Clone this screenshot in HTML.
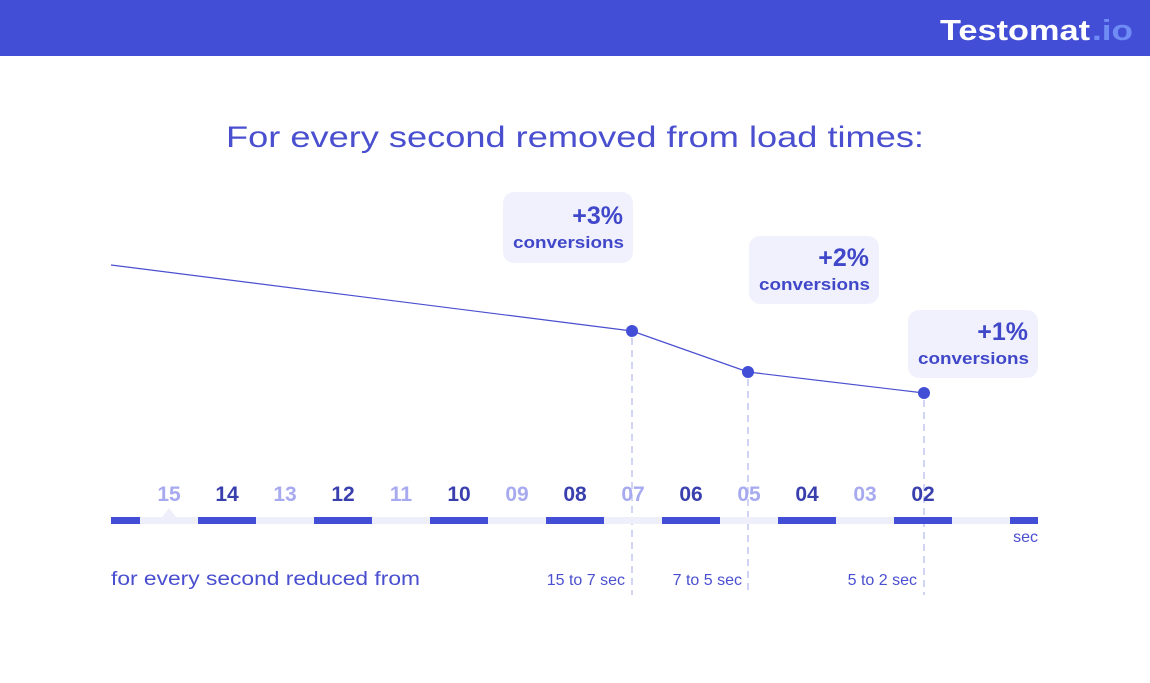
<!DOCTYPE html>
<html><head><meta charset="utf-8"><style>
html,body{margin:0;padding:0;background:#fff;}
svg{display:block;font-family:"Liberation Sans",sans-serif;}
</style></head><body>
<svg width="1150" height="683" viewBox="0 0 1150 683">
<rect x="0" y="0" width="1150" height="56" fill="#434ed6"/>
<text x="940" y="40" font-size="29" font-weight="bold" fill="#fff" textLength="150" lengthAdjust="spacingAndGlyphs">Testomat</text>
<text x="1092" y="40" font-size="29" font-weight="bold" fill="#6f8cf5" textLength="41" lengthAdjust="spacingAndGlyphs">.io</text>
<text x="226" y="147" font-size="30" fill="#4a4fcf" textLength="698" lengthAdjust="spacingAndGlyphs">For every second removed from load times:</text>

<!-- callouts -->
<rect x="503" y="192" width="130" height="71" rx="11" fill="#f1f1fd"/>
<text x="623" y="224" font-size="25" font-weight="bold" fill="#4047c9" text-anchor="end">+3%</text>
<text x="513" y="248" font-size="17" font-weight="bold" fill="#4047c9" textLength="111" lengthAdjust="spacingAndGlyphs">conversions</text>
<rect x="749" y="236" width="130" height="68" rx="11" fill="#f1f1fd"/>
<text x="869" y="266" font-size="25" font-weight="bold" fill="#4047c9" text-anchor="end">+2%</text>
<text x="759" y="290" font-size="17" font-weight="bold" fill="#4047c9" textLength="111" lengthAdjust="spacingAndGlyphs">conversions</text>
<rect x="908" y="310" width="130" height="68" rx="11" fill="#f1f1fd"/>
<text x="1028" y="340" font-size="25" font-weight="bold" fill="#4047c9" text-anchor="end">+1%</text>
<text x="918" y="364" font-size="17" font-weight="bold" fill="#4047c9" textLength="111" lengthAdjust="spacingAndGlyphs">conversions</text>

<!-- line -->
<polyline points="111,265 632,331 748,372 924,393" fill="none" stroke="#4a4fcf" stroke-width="1.2"/>
<g stroke="#c3c5f3" stroke-width="1.5" stroke-dasharray="7,5">
<line x1="632" y1="338" x2="632" y2="595"/>
<line x1="748" y1="379" x2="748" y2="595"/>
<line x1="924" y1="400" x2="924" y2="595"/>
</g>
<g fill="#434ed6">
<circle cx="632" cy="331" r="6"/>
<circle cx="748" cy="372" r="6"/>
<circle cx="924" cy="393" r="6"/>
</g>

<!-- bar -->
<rect x="111" y="517" width="927" height="7" fill="#efeffc"/>
<path d="M162,517 L169,508 L176,517 Z" fill="#efeffc"/>
<g fill="#434ed6">
<rect x="111" y="517" width="29" height="7"/>
<rect x="198" y="517" width="58" height="7"/>
<rect x="314" y="517" width="58" height="7"/>
<rect x="430" y="517" width="58" height="7"/>
<rect x="546" y="517" width="58" height="7"/>
<rect x="662" y="517" width="58" height="7"/>
<rect x="778" y="517" width="58" height="7"/>
<rect x="894" y="517" width="58" height="7"/>
<rect x="1010" y="517" width="28" height="7"/>
</g>

<!-- labels -->
<g font-size="21" font-weight="bold" text-anchor="middle">
<text x="169" y="501" fill="#a7aaef">15</text>
<text x="227" y="501" fill="#3a3fae">14</text>
<text x="285" y="501" fill="#a7aaef">13</text>
<text x="343" y="501" fill="#3a3fae">12</text>
<text x="401" y="501" fill="#a7aaef">11</text>
<text x="459" y="501" fill="#3a3fae">10</text>
<text x="517" y="501" fill="#a7aaef">09</text>
<text x="575" y="501" fill="#3a3fae">08</text>
<text x="633" y="501" fill="#a7aaef">07</text>
<text x="691" y="501" fill="#3a3fae">06</text>
<text x="749" y="501" fill="#a7aaef">05</text>
<text x="807" y="501" fill="#3a3fae">04</text>
<text x="865" y="501" fill="#a7aaef">03</text>
<text x="923" y="501" fill="#3a3fae">02</text>
</g>
<text x="1038" y="542" font-size="16" fill="#4a4fcf" text-anchor="end">sec</text>
<text x="111" y="585" font-size="19" fill="#4a4fcf" textLength="309" lengthAdjust="spacingAndGlyphs">for every second reduced from</text>
<text x="625" y="585" font-size="16" fill="#4a4fcf" text-anchor="end">15 to 7 sec</text>
<text x="742" y="585" font-size="16" fill="#4a4fcf" text-anchor="end">7 to 5 sec</text>
<text x="917" y="585" font-size="16" fill="#4a4fcf" text-anchor="end">5 to 2 sec</text>
</svg>
</body></html>
